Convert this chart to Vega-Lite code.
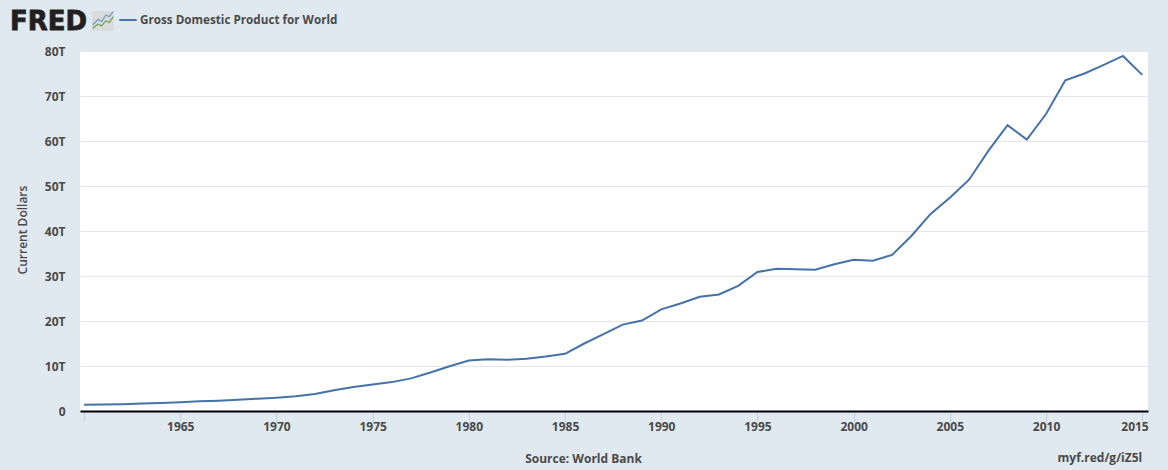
{"$schema":"https://vega.github.io/schema/vega-lite/v6.json","width":1068,"height":360,"autosize":"none","padding":{"left":80,"top":51,"right":20,"bottom":59},"background":"#e1e9f0","view":{"fill":"#ffffff","stroke":null},"config":{"font":"Open Sans"},"datasets":{"gdp":[{"year":1960,"gdp":1.37,"series":"Gross Domestic Product for World"},{"year":1961,"gdp":1.42,"series":"Gross Domestic Product for World"},{"year":1962,"gdp":1.52,"series":"Gross Domestic Product for World"},{"year":1963,"gdp":1.64,"series":"Gross Domestic Product for World"},{"year":1964,"gdp":1.8,"series":"Gross Domestic Product for World"},{"year":1965,"gdp":1.97,"series":"Gross Domestic Product for World"},{"year":1966,"gdp":2.16,"series":"Gross Domestic Product for World"},{"year":1967,"gdp":2.3,"series":"Gross Domestic Product for World"},{"year":1968,"gdp":2.48,"series":"Gross Domestic Product for World"},{"year":1969,"gdp":2.74,"series":"Gross Domestic Product for World"},{"year":1970,"gdp":2.96,"series":"Gross Domestic Product for World"},{"year":1971,"gdp":3.27,"series":"Gross Domestic Product for World"},{"year":1972,"gdp":3.77,"series":"Gross Domestic Product for World"},{"year":1973,"gdp":4.59,"series":"Gross Domestic Product for World"},{"year":1974,"gdp":5.31,"series":"Gross Domestic Product for World"},{"year":1975,"gdp":5.89,"series":"Gross Domestic Product for World"},{"year":1976,"gdp":6.42,"series":"Gross Domestic Product for World"},{"year":1977,"gdp":7.25,"series":"Gross Domestic Product for World"},{"year":1978,"gdp":8.54,"series":"Gross Domestic Product for World"},{"year":1979,"gdp":9.96,"series":"Gross Domestic Product for World"},{"year":1980,"gdp":11.2,"series":"Gross Domestic Product for World"},{"year":1981,"gdp":11.5,"series":"Gross Domestic Product for World"},{"year":1982,"gdp":11.4,"series":"Gross Domestic Product for World"},{"year":1983,"gdp":11.6,"series":"Gross Domestic Product for World"},{"year":1984,"gdp":12.1,"series":"Gross Domestic Product for World"},{"year":1985,"gdp":12.7,"series":"Gross Domestic Product for World"},{"year":1986,"gdp":15.0,"series":"Gross Domestic Product for World"},{"year":1987,"gdp":17.1,"series":"Gross Domestic Product for World"},{"year":1988,"gdp":19.2,"series":"Gross Domestic Product for World"},{"year":1989,"gdp":20.1,"series":"Gross Domestic Product for World"},{"year":1990,"gdp":22.6,"series":"Gross Domestic Product for World"},{"year":1991,"gdp":23.9,"series":"Gross Domestic Product for World"},{"year":1992,"gdp":25.4,"series":"Gross Domestic Product for World"},{"year":1993,"gdp":25.9,"series":"Gross Domestic Product for World"},{"year":1994,"gdp":27.8,"series":"Gross Domestic Product for World"},{"year":1995,"gdp":30.9,"series":"Gross Domestic Product for World"},{"year":1996,"gdp":31.6,"series":"Gross Domestic Product for World"},{"year":1997,"gdp":31.5,"series":"Gross Domestic Product for World"},{"year":1998,"gdp":31.4,"series":"Gross Domestic Product for World"},{"year":1999,"gdp":32.6,"series":"Gross Domestic Product for World"},{"year":2000,"gdp":33.6,"series":"Gross Domestic Product for World"},{"year":2001,"gdp":33.4,"series":"Gross Domestic Product for World"},{"year":2002,"gdp":34.7,"series":"Gross Domestic Product for World"},{"year":2003,"gdp":38.9,"series":"Gross Domestic Product for World"},{"year":2004,"gdp":43.8,"series":"Gross Domestic Product for World"},{"year":2005,"gdp":47.4,"series":"Gross Domestic Product for World"},{"year":2006,"gdp":51.4,"series":"Gross Domestic Product for World"},{"year":2007,"gdp":57.8,"series":"Gross Domestic Product for World"},{"year":2008,"gdp":63.5,"series":"Gross Domestic Product for World"},{"year":2009,"gdp":60.3,"series":"Gross Domestic Product for World"},{"year":2010,"gdp":66.0,"series":"Gross Domestic Product for World"},{"year":2011,"gdp":73.5,"series":"Gross Domestic Product for World"},{"year":2012,"gdp":75.0,"series":"Gross Domestic Product for World"},{"year":2013,"gdp":76.9,"series":"Gross Domestic Product for World"},{"year":2014,"gdp":78.9,"series":"Gross Domestic Product for World"},{"year":2015,"gdp":74.7,"series":"Gross Domestic Product for World"}]},"layer":[{"data":{"name":"gdp"},"mark":{"type":"line","strokeWidth":2,"interpolate":"linear"},"encoding":{"x":{"field":"year","type":"quantitative","scale":{"domain":[1959.79,2015.3],"nice":false,"zero":false},"axis":{"values":[1960,1965,1970,1975,1980,1985,1990,1995,2000,2005,2010,2015],"labelExpr":"datum.value==1960?'':format(datum.value,'d')","grid":false,"domain":true,"domainColor":"#000000","domainWidth":2,"tickColor":"#c0d0e0","tickSize":10,"tickWidth":1,"labelFontSize":12,"labelFontWeight":"bold","labelColor":"#4a4a4a","labelPadding":0,"labelFlush":8,"labelFlushOffset":6,"labelOverlap":false,"title":"Source: World Bank","titleFontSize":12,"titleFontWeight":"bold","titleColor":"#4a4a4a","titleX":503,"titleY":47,"titleBaseline":"middle","titleAlign":"center"}},"y":{"field":"gdp","type":"quantitative","scale":{"domain":[0,80],"nice":false},"axis":{"values":[0,10,20,30,40,50,60,70,80],"labelExpr":"datum.value==0?'0':datum.value+'T'","grid":true,"gridColor":"#e6e6e6","gridWidth":1,"domain":false,"ticks":false,"labelFontSize":12,"labelFontWeight":"bold","labelColor":"#4a4a4a","labelPadding":15,"title":"Current Dollars","titleFontSize":12,"titleFontWeight":600,"titleColor":"#4a4a4a","titleX":-58,"titleY":178.5,"titleBaseline":"middle","titleAlign":"center"}},"color":{"field":"series","type":"nominal","scale":{"range":["#4572a7"]},"legend":{"title":null,"orient":"none","legendX":38,"legendY":-41,"padding":0,"symbolType":"stroke","symbolSize":300,"symbolStrokeWidth":2,"labelFontSize":11.7,"labelFontWeight":"bold","labelColor":"#4a4a4a","labelLimit":400,"labelOffset":2}}}},{"data":{"values":[{"label":"myf.red/g/iZ5l"}]},"mark":{"type":"text","align":"right","baseline":"middle","fontSize":12,"fontWeight":"bold","color":"#4a4a4a"},"encoding":{"x":{"datum":2015},"y":{"datum":-10.44},"text":{"field":"label"}}},{"data":{"values":[{"label":"FRED"}]},"mark":{"type":"text","align":"left","baseline":"alphabetic","font":"DejaVu Sans","fontWeight":"bold","fontSize":26,"color":"#231f20","stroke":"#231f20","strokeWidth":0.8},"encoding":{"x":{"datum":1956.15},"y":{"datum":84.67},"text":{"field":"label"}}},{"data":{"values":[{"x0":1960.41,"x1":1961.55,"y0":84.44,"y1":88.89}]},"mark":{"type":"rect","fill":"#d8dcdd","cornerRadius":2},"encoding":{"x":{"field":"x0","type":"quantitative"},"x2":{"field":"x1"},"y":{"field":"y0","type":"quantitative"},"y2":{"field":"y1"}}},{"data":{"values":[{"s":"a","x":1960.445,"y":85.78},{"s":"a","x":1960.74,"y":87.04},{"s":"a","x":1960.913,"y":86.52},{"s":"a","x":1961.138,"y":88},{"s":"a","x":1961.311,"y":87.63},{"s":"a","x":1961.519,"y":88.74}]},"mark":{"type":"line","stroke":"#6f9bbd","strokeWidth":1.2},"encoding":{"x":{"field":"x","type":"quantitative"},"y":{"field":"y","type":"quantitative"}}},{"data":{"values":[{"s":"b","x":1960.445,"y":85.04},{"s":"b","x":1960.74,"y":86},{"s":"b","x":1960.913,"y":85.56},{"s":"b","x":1961.138,"y":86.74},{"s":"b","x":1961.311,"y":86.3},{"s":"b","x":1961.519,"y":87.63}]},"mark":{"type":"line","stroke":"#73a04f","strokeWidth":1.2},"encoding":{"x":{"field":"x","type":"quantitative"},"y":{"field":"y","type":"quantitative"}}}]}
